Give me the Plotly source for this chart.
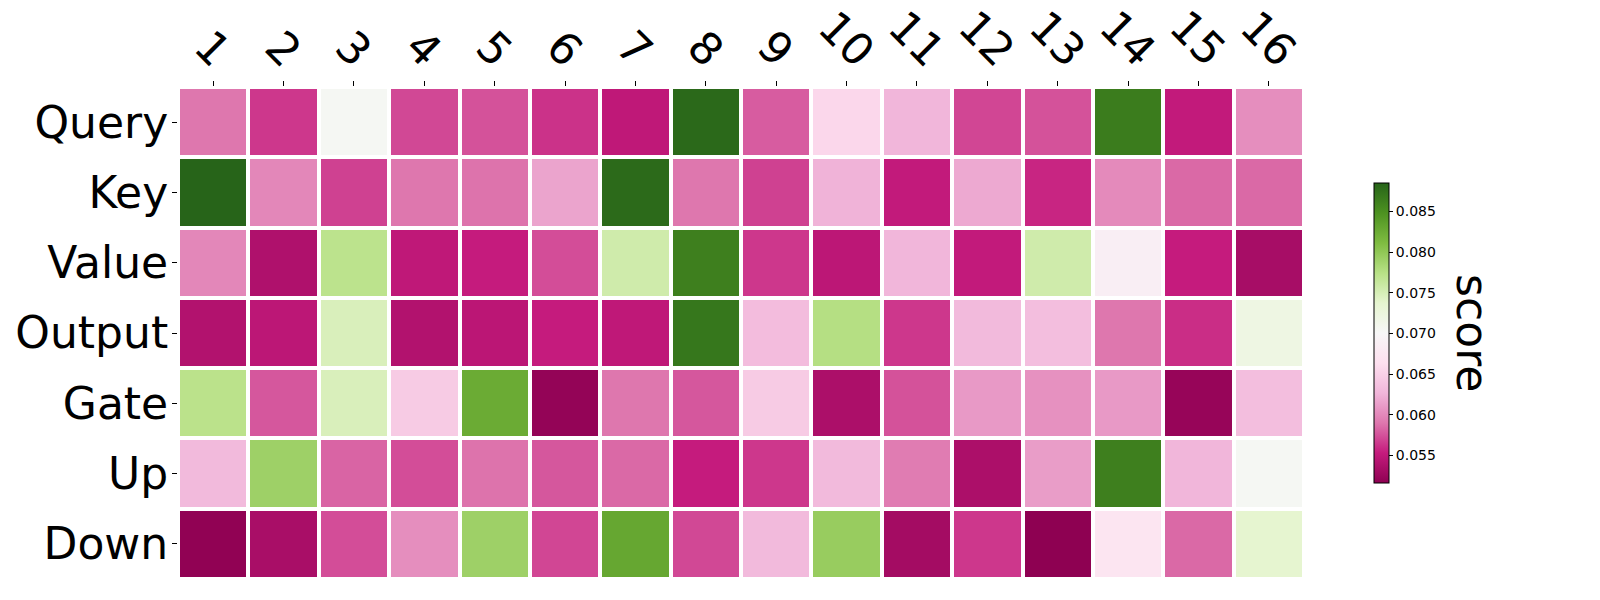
import plotly.graph_objects as go

# layers and projection modules
layers = [str(i) for i in range(1, 17)]
modules = ["Query", "Key", "Value", "Output", "Gate", "Up", "Down"]

query = [0.0590, 0.0564, 0.0704, 0.0571, 0.0575, 0.0562, 0.0549, 0.0881,
         0.0579, 0.0656, 0.0627, 0.0570, 0.0575, 0.0866, 0.0551, 0.0603]
key = [0.0885, 0.0599, 0.0568, 0.0590, 0.0588, 0.0616, 0.0880, 0.0590,
       0.0568, 0.0625, 0.0551, 0.0619, 0.0557, 0.0601, 0.0584, 0.0584]
value = [0.0599, 0.0538, 0.0771, 0.0549, 0.0553, 0.0573, 0.0756, 0.0863,
         0.0564, 0.0547, 0.0627, 0.0551, 0.0756, 0.0686, 0.0553, 0.0533]
output = [0.0540, 0.0547, 0.0748, 0.0540, 0.0546, 0.0553, 0.0549, 0.0870,
          0.0632, 0.0776, 0.0564, 0.0630, 0.0634, 0.0590, 0.0560, 0.0719]
gate = [0.0772, 0.0577, 0.0748, 0.0645, 0.0826, 0.0520, 0.0590, 0.0577,
        0.0645, 0.0536, 0.0575, 0.0610, 0.0605, 0.0610, 0.0522, 0.0634]
up = [0.0630, 0.0791, 0.0582, 0.0573, 0.0588, 0.0577, 0.0584, 0.0553,
      0.0564, 0.0630, 0.0593, 0.0536, 0.0612, 0.0863, 0.0627, 0.0704]
down = [0.0518, 0.0534, 0.0573, 0.0603, 0.0791, 0.0570, 0.0830, 0.0571,
        0.0630, 0.0795, 0.0531, 0.0564, 0.0516, 0.0671, 0.0584, 0.0737]

scores = [query, key, value, output, gate, up, down]

piyg = ['rgb(142,1,82)', 'rgb(197,27,125)', 'rgb(222,119,174)', 'rgb(241,182,218)',
        'rgb(253,224,239)', 'rgb(247,247,247)', 'rgb(230,245,208)', 'rgb(184,225,134)',
        'rgb(127,188,65)', 'rgb(77,146,33)', 'rgb(39,100,25)']
colorscale = [[i / 10, c] for i, c in enumerate(piyg)]

fig = go.Figure()
fig.add_trace(go.Heatmap(
    z=scores, x=layers, y=modules,
    colorscale=colorscale,
    zmin=min(min(r) for r in scores), zmax=max(max(r) for r in scores),
    xgap=4, ygap=4,
    colorbar=dict(
        x=1.0622, xanchor='left', xpad=0, ypad=0,
        y=0.5, yanchor='middle', len=0.61, lenmode='fraction',
        thickness=15, outlinewidth=1, outlinecolor='black',
        ticks='outside', ticklen=4, tickcolor='black',
        tickvals=[0.055, 0.060, 0.065, 0.070, 0.075, 0.080, 0.085],
        tickformat='.3f',
        tickfont=dict(size=14, color='black', family='DejaVu Sans'),
    ),
))

# rotated layer labels centred over their ticks (matplotlib style);
# numeric-looking categories, so place them by category index
for i, lab in enumerate(layers):
    fig.add_annotation(
        text=lab, textangle=45, showarrow=False,
        xref='x', yref='paper', x=i, y=1,
        xanchor='center', yanchor='bottom', yshift=8,
        font=dict(size=44, color='black', family='DejaVu Sans'),
    )

fig.add_annotation(
    text='score', textangle=90, showarrow=False,
    xref='paper', yref='paper', x=1.15, y=0.5,
    xanchor='center', yanchor='middle',
    font=dict(size=44, color='black', family='DejaVu Sans'),
)

fig.update_xaxes(type='category', range=[-0.5, len(layers) - 0.5],
                 side='top', ticks='outside', ticklen=5, showticklabels=False,
                 tickcolor='black', showgrid=False, zeroline=False,
                 automargin=False)
fig.update_yaxes(type='category', autorange='reversed', ticks='outside', ticklen=5,
                 tickcolor='black', showgrid=False, zeroline=False,
                 automargin=False, ticklabelstandoff=-5,
                 tickfont=dict(size=44, color='black', family='DejaVu Sans'))

# page body has an 8px default margin, so shift the plot up/left by that
fig.update_layout(
    width=1600, height=600,
    margin=dict(l=170, r=304, t=79, b=29, autoexpand=False),
    plot_bgcolor='white', paper_bgcolor='white',
    font=dict(family='DejaVu Sans'),
)

fig.write_html("out.html")
